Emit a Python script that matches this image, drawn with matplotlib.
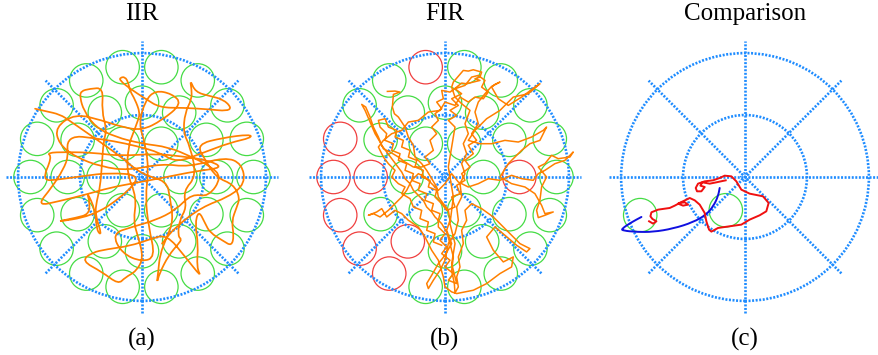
import numpy as np
import matplotlib.pyplot as plt
from matplotlib.patches import Circle, PathPatch
from matplotlib.path import Path

plt.rcParams['font.family'] = ['Liberation Serif', 'DejaVu Serif']

# Trace units: workspace (outer dotted) radius = 372
WS_R = 372.0

# Target layout: three rings around the centre
ring_radius = [0.31, 0.60, 0.90]
ring_count = [6, 12, 18]
target_size = 0.135

# Targets missed in the FIR session (ring index, angle in degrees)
fir_missed = [(2, 100), (2, 160), (2, 180), (2, 200), (2, 220), (2, 240),
              (1, 180), (1, 240), (1, 0)]
# Targets shown in the comparison trial
cmp_targets = [(2, 200), (0, 240)]

titles = ["IIR", "FIR", "Comparison"]
labels = ["(a)", "(b)", "(c)"]

iir_path = [
    (-321, 205), (-291, 198), (-246, 188), (-216, 168), (-151, 123), (-66, 63), (-1, 8),
    (74, -12), (84, -62), (94, -132), (74, -182), (54, -232), (49, -282), (44, -322),
    (52, -290), (80, -235), (110, -200), (119, -187), (108, -178), (112, -130),
    (134, -92), (124, -42), (164, 3), (144, 93), (124, 133), (129, 193), (149, 233),
    (149, 263), (144, 293), (160, 255), (204, 243), (244, 233), (269, 208), (254, 198),
    (204, 203), (124, 208), (54, 208), (10, 235), (-40, 268), (-66, 290), (-66, 298),
    (-51, 301), (-41, 283), (-36, 258), (-21, 233), (-6, 193), (-11, 173), (-26, 133),
    (-41, 93), (-46, 13), (-16, -62), (-26, -132), (-11, -182), (4, -242), (-16, -282),
    (-51, -302), (-71, -322), (-120, -285), (-181, -252), (-151, -227), (-106, -217),
    (-36, -207), (24, -187), (74, -172), (130, -240), (179, -302), (164, -272),
    (169, -202), (159, -142), (170, -100), (190, -140), (204, -167), (244, -192),
    (269, -207), (276, -177), (269, -132), (284, -92), (294, -62), (274, -22), (224, -2),
    (190, 50), (164, 98), (244, 118), (324, 128), (329, 118), (264, 103), (184, 73),
    (104, 43), (54, 73), (-16, 93), (-86, 108), (-156, 118), (-201, 123), (-226, 105),
    (-221, 63), (-236, 23), (-270, -30), (-316, -87), (-246, -72), (-166, -52),
    (-96, -32), (-16, -17), (64, -2), (164, 18), (244, 28), (200, 50), (120, 62),
    (40, 70), (-66, 63), (-146, 73), (-226, 75), (-286, 73), (-270, 60), (-301, -12),
    (-246, -7), (-176, 3), (-96, 13), (0, 5), (-60, -60), (-150, -118), (-271, -137),
    (-196, -122), (-161, -112), (-156, -82), (-166, -42), (-140, -100), (-136, -162),
    (-120, -175), (-141, -112), (-136, -72), (-126, -32), (-120, 40), (-116, 103),
    (-106, 143), (-121, 198), (-116, 268), (-156, 265), (-184, 258), (-186, 238),
    (-175, 200), (-140, 150), (-80, 120), (0, 100), (80, 90), (150, 60), (204, 33),
    (240, 0), (200, -60), (150, -50), (100, -100), (40, -130), (-30, -150), (-90, -170),
    (-60, -230), (0, -255), (40, -240), (20, -150), (10, -60), (20, 20), (10, 100),
    (-10, 160), (10, 230), (40, 260), (90, 250), (120, 220), (60, 170), (0, 140),
    (-60, 150), (-120, 170), (-200, 190), (-260, 150), (-250, 100), (-200, 60),
    (-120, 30), (-40, 20), (60, 40), (140, 30), (250, 60), (300, 40), (310, -20),
    (260, -60), (180, -90), (100, -150), (60, -200),
]

fir_path = [
    (-173, 257), (-150, 258), (-135, 255), (-155, 248), (-158, 210), (-152, 190), (-140, 180),
    (-120, 150), (-110, 120), (-95, 95), (-90, 60), (-70, 40), (-55, 20), (-40, -5),
    (-25, -30), (-20, -60), (-5, -80), (10, -100), (15, -130), (5, -160), (20, -200),
    (0, -235), (-20, -260), (-40, -295), (-55, -320), (-50, -335), (-35, -310), (-15, -280),
    (0, -250), (10, -200), (30, -170), (40, -130), (35, -90), (50, -60), (45, -20), (60, 10),
    (50, 40), (65, 70), (55, 100), (70, 130), (60, 160), (75, 200), (50, 220), (30, 240),
    (20, 270), (25, 285), (55, 320), (70, 318), (85, 322), (110, 315), (105, 300), (90, 295),
    (105, 290), (65, 280), (50, 282), (35, 270), (15, 255), (-10, 260), (-5, 235), (-25, 225),
    (-10, 205), (-30, 190), (-20, 170), (-40, 150), (-25, 130), (-45, 110), (-35, 80),
    (-60, 60), (-45, 40), (-70, 30), (-95, 30), (-120, 45), (-140, 60), (-165, 75),
    (-185, 85), (-195, 105), (-210, 130), (-225, 165), (-240, 200), (-250, 218), (-238, 210),
    (-225, 180), (-215, 150), (-200, 120), (-190, 95), (-175, 75), (-160, 55), (-145, 35),
    (-130, 15), (-120, -5), (-105, -20), (-95, -40), (-80, -55), (-65, -70), (-55, -90),
    (-40, -105), (-30, -120), (-10, -140), (5, -165), (15, -200), (25, -240), (20, -280),
    (28, -320), (30, -348), (40, -330), (35, -300), (45, -270), (40, -240), (55, -200),
    (50, -160), (65, -130), (60, -100), (80, -80), (110, -95), (145, -120), (185, -160),
    (225, -200), (255, -215), (245, -225), (215, -205), (180, -175), (150, -150),
    (125, -180), (145, -220), (175, -255), (205, -240), (200, -270), (165, -290),
    (125, -320), (85, -340), (35, -350), (20, -345), (0, -330), (-5, -300), (-20, -250),
    (-40, -220), (-60, -180), (-80, -150), (-110, -130), (-130, -110), (-150, -100),
    (-175, -120), (-190, -95), (-205, -105), (-230, -115), (-215, -110), (-195, -120),
    (-170, -100), (-150, -80), (-130, -60), (-115, -40), (-100, -10), (-80, 10), (-60, 0),
    (-40, -20), (-20, -40), (0, -20), (20, 10), (40, -15), (70, -30), (100, -20), (130, -5),
    (165, -10), (200, 5), (230, -5), (265, -10), (280, 10), (300, 20), (330, 40), (360, 50),
    (385, 75), (375, 60), (340, 55), (320, 65), (300, 40), (280, 30), (305, 0), (290, -30),
    (285, -70), (275, -100), (280, -122), (300, -115), (325, -105), (300, -110), (290, -85),
    (270, -50), (240, -30), (200, -20), (165, 0), (190, 40), (230, 80), (255, 100),
    (285, 110), (305, 150), (295, 140), (260, 120), (220, 105), (180, 110), (140, 100),
    (105, 100), (70, 110), (90, 140), (125, 175), (165, 200), (205, 240), (250, 250),
    (285, 280), (270, 270), (230, 240), (190, 215), (160, 235), (140, 270), (150, 278),
    (165, 285), (140, 272), (120, 250), (100, 225), (90, 195), (100, 160), (80, 130),
    (95, 110), (70, 95), (85, 70), (60, 50), (75, 30), (50, 10), (60, -10), (35, -25),
    (45, -50), (20, -60), (30, -90), (5, -100), (-10, -80), (-30, -60), (-25, -40),
    (-50, -30), (-45, -10), (-70, 0), (-65, 20), (-90, 30), (-85, 50), (-110, 60),
    (-105, 80), (-130, 90), (-125, 110), (-150, 120), (-145, 140), (-170, 150), (-180, 175),
    (-200, 170), (-195, 150), (-175, 130), (-180, 110), (-155, 100), (-160, 80), (-135, 70),
    (-140, 50), (-115, 40), (-120, 20), (-95, 10), (-100, -10), (-75, -20), (-80, -40),
    (-55, -50), (-60, -70), (-35, -80), (-40, -100), (-15, -110), (-20, -130), (-20, -150),
    (0, -170), (-15, -190), (5, -210), (-10, -230), (15, -250), (0, -270), (25, -290),
    (10, -310), (35, -320), (20, -260), (30, -200), (15, -140), (25, -60), (10, 30),
    (30, 150), (10, 170), (35, 185), (15, 200), (40, 215), (20, 235), (50, 250), (30, 265),
    (60, 275), (80, 300), (100, 305), (120, 290), (110, 270), (130, 255), (115, 235),
    (90, 240), (70, 225), (45, 240), (30, 215), (0, 225), (-15, 200), (-50, 195),
    (-80, 170), (-110, 165), (-130, 140), (-160, 130), (-185, 110), (-200, 90), (-185, 60),
    (-170, 40), (-150, 20), (-160, 0), (-140, -20), (-120, -30), (-130, -50), (-105, -65),
    (-95, -90), (-70, -100), (-75, -125), (-50, -135), (-55, -160), (-30, -170),
    (-35, -195), (-10, -205),
]

# Comparison trial: smooth (IIR) and jittery (FIR) reaches
cmp_iir = [
    (-311, -120), (-341, -136), (-371, -156), (-366, -161), (-326, -165), (-276, -165),
    (-216, -155), (-156, -136), (-116, -113), (-94, -86), (-81, -58), (-76, -33),
]
cmp_fir = [
    (-288, -133), (-276, -140), (-266, -133), (-278, -126), (-284, -118), (-281, -106),
    (-261, -98), (-226, -93), (-211, -86), (-196, -78), (-181, -76), (-171, -83),
    (-186, -86), (-201, -80), (-176, -68), (-166, -63), (-151, -70), (-136, -83),
    (-121, -108), (-116, -133), (-108, -158), (-101, -164), (-81, -153), (-46, -148),
    (-11, -143), (14, -128), (44, -115), (64, -103), (71, -78), (54, -58), (14, -50),
    (-11, -38), (-26, -13), (-41, 2), (-61, 4), (-76, -3), (-96, -10), (-121, -13),
    (-141, -20), (-148, -33), (-144, -43), (-131, -43), (-121, -30), (-134, -26),
    (-128, -16), (-106, -20), (-86, -16), (-58, -10),
]

GRID_C = '#1e8cff'
HIT_C = '#45dc45'
MISS_C = '#f04040'
ORANGE = '#ff8000'
DOT = (0, (0.75, 0.6))


def target_xy(ring, ang):
    a = np.deg2rad(ang)
    return ring_radius[ring] * np.cos(a), ring_radius[ring] * np.sin(a)


def smooth(pts):
    # quadratic Bezier through the midpoints, waypoints act as control points
    pts = np.asarray(pts, float) / WS_R
    verts = [pts[0], (pts[0] + pts[1]) / 2]
    codes = [Path.MOVETO, Path.LINETO]
    for i in range(1, len(pts) - 1):
        verts += [pts[i], (pts[i] + pts[i + 1]) / 2]
        codes += [Path.CURVE3, Path.CURVE3]
    verts.append(pts[-1])
    codes.append(Path.LINETO)
    return Path(verts, codes)


def draw_workspace(ax):
    for r in (0.5, 1.0):
        ax.add_patch(Circle((0, 0), r, fill=False, ec=GRID_C, lw=1.9, ls=DOT, zorder=2))
    ax.add_patch(Circle((0, 0), 0.035, fill=False, ec=GRID_C, lw=1.0, ls=(0, (1, 1)), zorder=2))
    for ang in (0, 45, 90, 135):
        a = np.deg2rad(ang)
        ax.plot([-1.1 * np.cos(a), 1.1 * np.cos(a)], [-1.1 * np.sin(a), 1.1 * np.sin(a)],
                color=GRID_C, lw=1.9, ls=DOT, zorder=2)


def draw_targets(ax, targets, missed=()):
    for ring, ang in targets:
        c = MISS_C if (ring, ang) in missed else HIT_C
        ax.add_patch(Circle(target_xy(ring, ang), target_size, fill=False,
                            ec=c, lw=0.9, zorder=1))


all_targets = [(i, k * 360 // n) for i, n in enumerate(ring_count) for k in range(n)]

fig = plt.figure(figsize=(8.79, 3.55), dpi=100)
centres = [142, 445, 745]
half = 140
axes = []
for cx in centres:
    ax = fig.add_axes([(cx - half) / 879, (178 - half) / 355, 2 * half / 879, 2 * half / 355])
    ax.set_xlim(-1.13, 1.13)
    ax.set_ylim(-1.13, 1.13)
    ax.set_aspect('equal')
    ax.axis('off')
    axes.append(ax)

draw_targets(axes[0], all_targets)
draw_targets(axes[1], all_targets, fir_missed)
draw_targets(axes[2], cmp_targets)
for ax in axes:
    draw_workspace(ax)

axes[0].add_patch(PathPatch(smooth(iir_path), fill=False, ec=ORANGE, lw=1.25,
                            capstyle='round', zorder=3))
p = np.array(fir_path) / WS_R
axes[1].plot(p[:, 0], p[:, 1], color=ORANGE, lw=1.1, zorder=3, solid_joinstyle='round')
axes[2].add_patch(PathPatch(smooth(cmp_iir), fill=False, ec='#1010e0', lw=1.4,
                            capstyle='round', zorder=3))
p = np.array(cmp_fir) / WS_R
axes[2].plot(p[:, 0], p[:, 1], color='#f01010', lw=1.4, zorder=4, solid_joinstyle='round')

for cx, t, lab in zip(centres, titles, labels):
    fig.text(cx / 879, 1 - 14 / 355, t, ha='center', va='center', fontsize=18)
    fig.text(cx / 879, 1 - 339 / 355, lab, ha='center', va='center', fontsize=18)

fig.savefig('out.png', dpi=100)
